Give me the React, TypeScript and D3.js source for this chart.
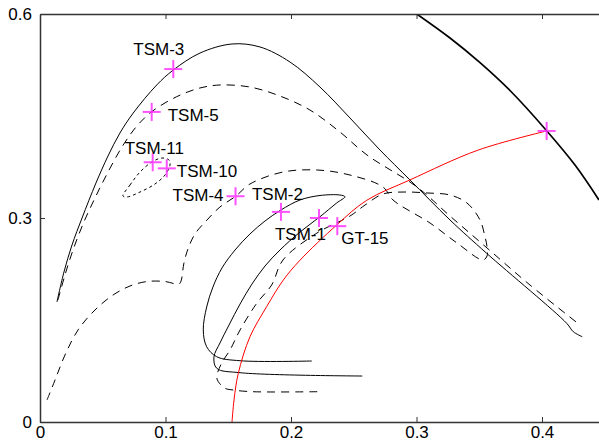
import { useRef, useEffect } from "react";
import * as d3 from "d3";

type Pt = [number, number];

// outer solid arch
const solidArch: Pt[] = [
  [0.0135, 0.1765], [0.0191, 0.2206], [0.0255, 0.2603], [0.0335, 0.3], [0.0446, 0.3515],
  [0.0542, 0.3912], [0.0637, 0.425], [0.0743, 0.4544], [0.093, 0.4956], [0.1062, 0.5176],
  [0.1275, 0.5426], [0.153, 0.5559], [0.1753, 0.5515], [0.1992, 0.5294], [0.2231, 0.4926],
  [0.247, 0.4471], [0.2709, 0.4], [0.2948, 0.3559], [0.3267, 0.2971], [0.3559, 0.2481],
  [0.4197, 0.1451], [0.4249, 0.1328], [0.4321, 0.1254],
];

// outer dashed arch
const dashArch: Pt[] = [
  [0.0143, 0.1794], [0.0199, 0.2162], [0.0263, 0.2529], [0.0343, 0.2912], [0.0438, 0.3294],
  [0.0542, 0.3676], [0.0653, 0.4044], [0.0765, 0.4338], [0.089, 0.4563], [0.1089, 0.4784],
  [0.1275, 0.4912], [0.1434, 0.4956], [0.1673, 0.4926], [0.1912, 0.4794], [0.2151, 0.4588],
  [0.239, 0.4265], [0.2606, 0.3926], [0.3004, 0.3456], [0.3267, 0.3029], [0.3562, 0.2559],
  [0.3904, 0.2015], [0.4303, 0.1426],
];

// small dotted loop
const dotLoop: Pt[] = [
  [0.0661, 0.3324], [0.0717, 0.3485], [0.0797, 0.3676], [0.0892, 0.3824], [0.0972, 0.3882],
  [0.1028, 0.3853], [0.1036, 0.3779], [0.0996, 0.3632], [0.0916, 0.35], [0.0797, 0.3382],
  [0.0693, 0.3309],
];

// inner dashed curve with loop
const dashLoop: Pt[] = [
  [0.0056, 0.0324], [0.012, 0.0618], [0.0199, 0.0985], [0.0303, 0.1353], [0.0438, 0.1647],
  [0.0582, 0.1868], [0.0717, 0.2], [0.0853, 0.2066], [0.0996, 0.2066], [0.1108, 0.2029],
  [0.1124, 0.2074], [0.1147, 0.2338], [0.1179, 0.2544], [0.1235, 0.2765], [0.1331, 0.2971],
  [0.1434, 0.3162], [0.1562, 0.3324], [0.1673, 0.35], [0.1936, 0.3676], [0.2207, 0.3706],
  [0.247, 0.3632], [0.2733, 0.3456], [0.2813, 0.3265], [0.3108, 0.2926], [0.3323, 0.2632],
  [0.353, 0.2382], [0.3562, 0.2441], [0.3562, 0.2574], [0.3546, 0.2721], [0.3506, 0.2971],
  [0.3402, 0.3221], [0.3267, 0.3338], [0.3084, 0.3368], [0.2908, 0.3382], [0.2733, 0.3353],
  [0.259, 0.3191], [0.247, 0.3029], [0.2207, 0.2779], [0.1936, 0.2382], [0.1846, 0.2015],
  [0.1727, 0.1746], [0.1594, 0.1353], [0.1514, 0.1059], [0.1448, 0.0868], [0.1408, 0.0666],
  [0.1421, 0.0593], [0.1474, 0.0496], [0.1538, 0.0471], [0.1687, 0.0446], [0.2231, 0.0446],
];

// solid hairpin
const solidHook: Pt[] = [
  [0.2165, 0.0897], [0.1594, 0.0901], [0.1408, 0.096], [0.1328, 0.1107], [0.1301, 0.1353],
  [0.1328, 0.1691], [0.1378, 0.1985], [0.145, 0.2265], [0.1554, 0.2529], [0.1673, 0.2765],
  [0.1793, 0.2956], [0.192, 0.3118], [0.2072, 0.3265], [0.2231, 0.3331], [0.239, 0.3338],
  [0.243, 0.3313], [0.2364, 0.3221], [0.2231, 0.3019], [0.2072, 0.2794], [0.1912, 0.2529],
  [0.1793, 0.2294], [0.1689, 0.2029], [0.1594, 0.1735], [0.1506, 0.1426], [0.1434, 0.1162],
  [0.1386, 0.0956], [0.1408, 0.079], [0.1594, 0.0725], [0.2568, 0.0676],
];

const redCurve: Pt[] = [
  [0.153, 0], [0.1546, 0.0324], [0.158, 0.0716], [0.1673, 0.1254], [0.1806, 0.1696],
  [0.1939, 0.2088], [0.2072, 0.238], [0.2364, 0.2897], [0.2603, 0.326], [0.2948, 0.356],
  [0.3493, 0.4], [0.4037, 0.428],
];

const thickCurve: Pt[] = [
  [0.3002, 0.6], [0.3267, 0.5647], [0.3506, 0.5285], [0.3745, 0.4875], [0.4037, 0.4284],
  [0.4263, 0.3779], [0.4454, 0.3265],
];

const pointNames = ["TSM-3", "TSM-5", "TSM-11", "TSM-10", "TSM-4", "TSM-2", "TSM-1", "GT-15", ""];
const pointX = [0.1062, 0.089, 0.0898, 0.101, 0.1558, 0.192, 0.2223, 0.2369, 0.4037];
const pointY = [0.519, 0.456, 0.382, 0.373, 0.332, 0.309, 0.3, 0.288, 0.428];

const xTicks = [0, 0.1, 0.2, 0.3, 0.4];
const yTicks = [0, 0.3, 0.6];

// label placement relative to the marker: [dx, dy(baseline), anchor]
const labelPlace: [number, number, string][] = [
  [-40, -14, "start"], [16, 9, "start"], [-28, -8, "start"], [10, 9, "start"],
  [-12, 5, "end"], [-29, -12, "start"], [-44, 22, "start"], [4, 18, "start"], [0, 0, "start"],
];

const App = () => {
  const svgRef = useRef<SVGSVGElement>(null);

  useEffect(() => {
    const width = 599;
    const height = 445;
    const left = 40, right = 599, top = 14, bottom = 422;
    const font = "'Liberation Sans', Arial, sans-serif";

    const svg = d3.select(svgRef.current);
    svg.selectAll("*").remove();
    svg.attr("width", width).attr("height", height);

    const x = d3.scaleLinear().domain([0, (right - left) / 1255]).range([left, right]);
    const y = d3.scaleLinear().domain([0, 0.6]).range([bottom, top]);

    svg.append("defs").append("clipPath").attr("id", "plot")
      .append("rect").attr("x", left).attr("y", top).attr("width", right - left).attr("height", bottom - top);

    const g = svg.append("g").attr("clip-path", "url(#plot)");

    const line = d3.line<Pt>()
      .x((d) => x(d[0]))
      .y((d) => y(d[1]))
      .curve(d3.curveCatmullRom.alpha(0.5));

    const draw = (pts: Pt[], stroke: string, sw: number, dash: string | null, closed = false) => {
      const gen = closed ? line.curve(d3.curveCatmullRomClosed.alpha(0.5)) : line;
      g.append("path")
        .attr("d", gen(pts))
        .attr("fill", "none")
        .attr("stroke", stroke)
        .attr("stroke-width", sw)
        .attr("stroke-dasharray", dash);
      line.curve(d3.curveCatmullRom.alpha(0.5));
    };

    draw(solidArch, "#000", 1, null);
    draw(dashArch, "#000", 1, "8,6");
    draw(dotLoop, "#000", 1, "3,3", true);
    draw(dashLoop, "#000", 1, "8,6");
    draw(solidHook, "#000", 1, null);
    draw(redCurve, "#ff0000", 1, null);
    draw(thickCurve, "#000", 1.7, null);

    // markers
    pointX.forEach((px, i) => {
      const cx = x(px), cy = y(pointY[i]);
      const m = svg.append("g").attr("stroke", "#ff33ff").attr("stroke-width", 2).attr("opacity", 0.85);
      m.append("line").attr("x1", cx - 9).attr("x2", cx + 9).attr("y1", cy).attr("y2", cy);
      m.append("line").attr("x1", cx).attr("x2", cx).attr("y1", cy - 9).attr("y2", cy + 9);
      const [dx, dy, anchor] = labelPlace[i];
      if (pointNames[i]) {
        svg.append("text")
          .attr("x", cx + dx)
          .attr("y", cy + dy)
          .attr("text-anchor", anchor)
          .style("font-family", font)
          .style("font-size", "17px")
          .attr("fill", "#000")
          .text(pointNames[i]);
      }
    });

    // axes
    const axisStyle = (sel: d3.Selection<SVGGElement, unknown, null, undefined>) => {
      sel.select(".domain").attr("stroke", "#333").attr("stroke-width", 1.5);
      sel.selectAll(".tick line").attr("stroke", "#333").attr("stroke-width", 1);
      sel.selectAll(".tick text").style("font-family", font).style("font-size", "17px").attr("fill", "#000");
    };

    svg.append("g")
      .attr("transform", `translate(0,${bottom})`)
      .call(d3.axisBottom(x).tickValues(xTicks).tickSize(-5).tickSizeOuter(0).tickPadding(4).tickFormat(d3.format("")))
      .call(axisStyle);

    svg.append("g")
      .attr("transform", `translate(0,${top})`)
      .call(d3.axisTop(x).tickValues(xTicks).tickSize(-5).tickSizeOuter(0).tickFormat(() => ""))
      .call(axisStyle);

    svg.append("g")
      .attr("transform", `translate(${left},0)`)
      .call(d3.axisLeft(y).tickValues(yTicks).tickSize(-5).tickSizeOuter(0).tickPadding(8).tickFormat(d3.format("")))
      .call(axisStyle);
  }, []);

  return <svg ref={svgRef} style={{ position: "absolute", left: 0, top: 0 }}></svg>;
};

export default App;
